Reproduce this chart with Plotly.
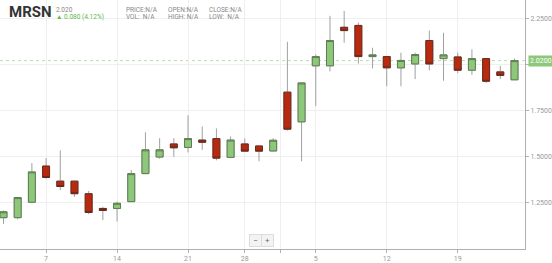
import plotly.graph_objects as go

# ---- data ----
opens  = [1.168, 1.168, 1.252, 1.448, 1.366, 1.366, 1.298, 1.218, 1.218, 1.255,
          1.407, 1.497, 1.568, 1.549, 1.589, 1.597, 1.495, 1.568, 1.557, 1.530,
          1.849, 1.688, 1.992, 1.992, 2.201, 2.211, 2.042, 2.042, 1.981, 2.002,
          2.129, 2.031, 2.040, 1.968, 2.031, 1.959, 1.916]
highs  = [1.207, 1.280, 1.464, 1.491, 1.533, 1.368, 1.313, 1.227, 1.255, 1.427,
          1.631, 1.599, 1.599, 1.723, 1.663, 1.652, 1.609, 1.597, 1.557, 1.599,
          2.122, 1.899, 2.054, 2.263, 2.290, 2.227, 2.090, 2.044, 2.063, 2.063,
          2.183, 2.171, 2.063, 2.081, 2.033, 1.992, 2.031]
lows   = [1.134, 1.159, 1.246, 1.379, 1.318, 1.281, 1.187, 1.155, 1.147, 1.255,
          1.405, 1.488, 1.498, 1.522, 1.536, 1.479, 1.491, 1.529, 1.474, 1.527,
          1.640, 1.474, 1.774, 1.962, 2.117, 2.004, 1.978, 1.881, 1.881, 1.920,
          1.967, 1.911, 1.952, 1.943, 1.899, 1.920, 1.916]
closes = [1.200, 1.277, 1.416, 1.386, 1.337, 1.298, 1.196, 1.207, 1.246, 1.407,
          1.536, 1.536, 1.547, 1.597, 1.577, 1.491, 1.589, 1.529, 1.529, 1.588,
          1.648, 1.899, 2.042, 2.129, 2.183, 2.042, 2.051, 1.981, 2.021, 2.053,
          2.002, 2.051, 1.968, 2.031, 1.908, 1.940, 2.020]

tick_labels = ["7", "14", "21", "28", "5", "12", "19"]
tick_index = [3, 8, 13, 17, 22, 27, 32]
month_break = 19.5
y_ticks = [1.25, 1.5, 1.75, 2.0, 2.25]

symbol = "MRSN"
change = 0.080
change_pct = 4.12

# ---- figure ----
x = list(range(len(opens)))
body_hi = [max(o, c) for o, c in zip(opens, closes)]
body_lo = [min(o, c) for o, c in zip(opens, closes)]

GREEN = "#8dc87a"
RED = "#b8290f"

fig = go.Figure()
# wicks (gray)
fig.add_trace(go.Candlestick(
    x=x, open=opens, high=highs, low=lows, close=closes,
    increasing=dict(line=dict(color="#a0a0a0", width=1), fillcolor="rgba(0,0,0,0)"),
    decreasing=dict(line=dict(color="#a0a0a0", width=1), fillcolor="rgba(0,0,0,0)"),
    whiskerwidth=0, hoverinfo="skip", showlegend=False))
# bodies
fig.add_trace(go.Candlestick(
    x=x, open=opens, high=body_hi, low=body_lo, close=closes,
    increasing=dict(line=dict(color="#5e7d52", width=1), fillcolor=GREEN),
    decreasing=dict(line=dict(color="#6a2a1c", width=1), fillcolor=RED),
    whiskerwidth=0, showlegend=False))

last = closes[-1]
fig.add_shape(type="line", xref="paper", x0=0, x1=1, yref="y", y0=last, y1=last,
              line=dict(color="#b8dcaa", width=1, dash="3px,3px"), layer="below")

grid_vals = tick_index[:4] + [month_break] + tick_index[4:]
grid_text = tick_labels[:4] + [""] + tick_labels[4:]

# the 2.0000 label sits under the current-price tag
y_text = ["" if abs(v - last) < 0.05 else f"{v:.4f}" for v in y_ticks]

fig.update_layout(
    width=552, height=263,
    margin=dict(l=0, r=26, t=0, b=11),
    paper_bgcolor="white", plot_bgcolor="white",
    font=dict(family="Roboto, Arial, sans-serif", color="#999999", size=7),
    xaxis=dict(range=[-0.246, 36.74], rangeslider=dict(visible=False),
               tickmode="array", tickvals=grid_vals, ticktext=grid_text,
               showgrid=True, gridcolor="#efefef", gridwidth=1,
               showline=True, linecolor="#b0b0b0", linewidth=1,
               ticks="outside", ticklen=3, tickcolor="#b0b0b0",
               tickfont=dict(size=7, color="#999999"), zeroline=False),
    yaxis=dict(range=[0.998, 2.349], side="right",
               tickmode="array", tickvals=y_ticks, ticktext=y_text,
               showgrid=True, gridcolor="#efefef", gridwidth=1,
               showline=True, linecolor="#b0b0b0", linewidth=1,
               ticks="outside", ticklen=3, tickcolor="#b0b0b0",
               tickfont=dict(size=7, color="#999999"), zeroline=False),
)

# current price tag
fig.add_annotation(xref="paper", x=1, yref="y", y=last, xanchor="left", yanchor="middle",
                   text=f"{last:.4f}", showarrow=False, bgcolor="#8dc87a",
                   font=dict(color="white", size=7), borderpad=1, xshift=3)

# header
fig.add_annotation(xref="paper", yref="paper", x=0.013, y=0.995, xanchor="left", yanchor="top",
                   text=f"<b>{symbol}</b>", showarrow=False,
                   font=dict(size=15, color="#333333", family="Roboto"))
fig.add_annotation(xref="paper", yref="paper", x=0.102, y=0.985, xanchor="left", yanchor="top",
                   text=f"{last:.3f}", showarrow=False, font=dict(size=6.5, color="#888888"))
fig.add_annotation(xref="paper", yref="paper", x=0.102, y=0.955, xanchor="left", yanchor="top",
                   text=f"▲ {change:.3f} ({change_pct:.2f}%)",
                   showarrow=False, font=dict(size=6.5, color="#5cb84a"))
hdr = [("PRICE:N/A", "VOL:  N/A", 0.236), ("OPEN:N/A", "HIGH: N/A", 0.316), ("CLOSE:N/A", "LOW:  N/A", 0.394)]
for a, b, xp in hdr:
    fig.add_annotation(xref="paper", yref="paper", x=xp, y=0.985, xanchor="left", yanchor="top",
                       text=a, showarrow=False, font=dict(size=6.5, color="#888888"))
    fig.add_annotation(xref="paper", yref="paper", x=xp, y=0.955, xanchor="left", yanchor="top",
                       text=b, showarrow=False, font=dict(size=6.5, color="#888888"))

# zoom buttons
fig.add_annotation(xref="paper", yref="paper", x=0.487, y=0.01, xanchor="center", yanchor="bottom",
                   text="−", showarrow=False, bgcolor="#f3f3f3", bordercolor="#dddddd",
                   borderwidth=1, borderpad=1, font=dict(size=8, color="#666666"), width=9)
fig.add_annotation(xref="paper", yref="paper", x=0.509, y=0.01, xanchor="center", yanchor="bottom",
                   text="+", showarrow=False, bgcolor="#f3f3f3", bordercolor="#dddddd",
                   borderwidth=1, borderpad=1, font=dict(size=8, color="#666666"), width=9)

fig.write_html("out.html")
